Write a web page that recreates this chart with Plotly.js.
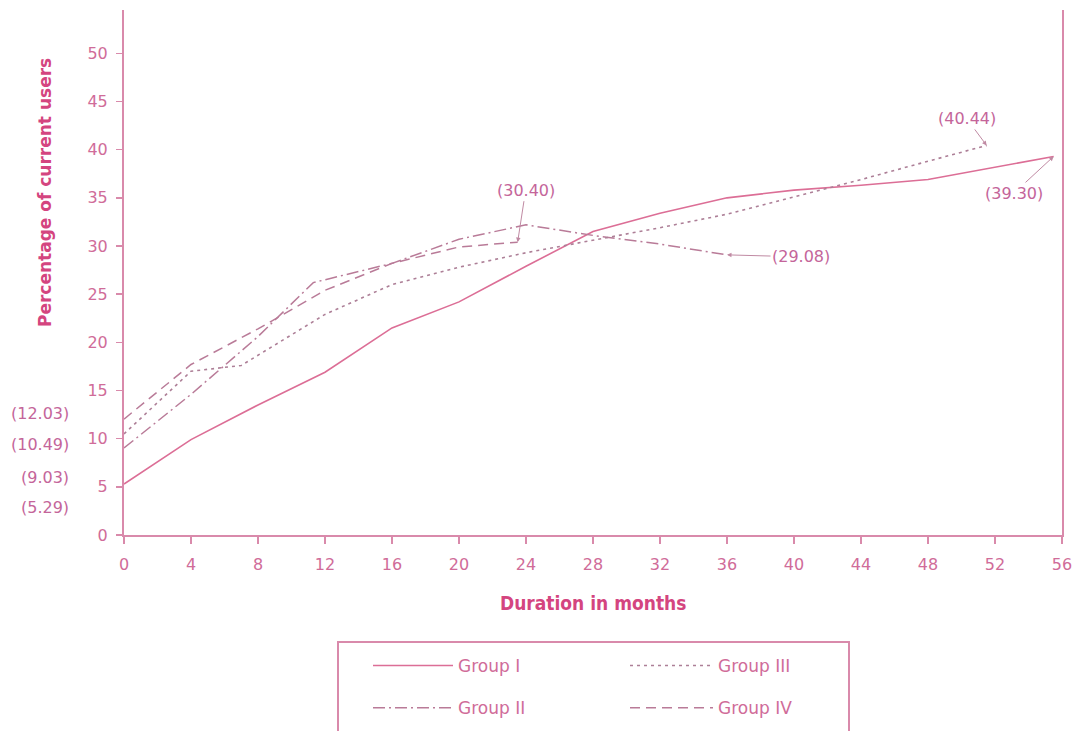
<!DOCTYPE html>
<html>
<head>
<meta charset="utf-8">
<script src="https://cdn.plot.ly/plotly-3.0.1.min.js"></script>
<style>html,body{margin:0;padding:0;background:#fff;}#chart{width:1078px;height:731px;}</style>
</head>
<body>
<div id="chart"></div>
<script>
// ---- data ----
const monthsI   = [0, 4, 8, 12, 16, 20, 24, 28, 32, 36, 40, 44, 48, 52, 55.5];
const groupI    = [5.29, 9.9, 13.5, 16.9, 21.5, 24.2, 27.9, 31.5, 33.4, 35.0, 35.8, 36.3, 36.9, 38.2, 39.30];

const monthsII  = [0, 4, 8, 11.3, 16, 20, 24, 28, 32, 36];
const groupII   = [9.03, 14.6, 20.6, 26.2, 28.2, 30.7, 32.2, 31.1, 30.2, 29.08];

const monthsIII = [0, 4, 7, 12, 16, 20, 24, 28, 32, 36, 40, 44, 48, 51.5];
const groupIII  = [10.49, 17.0, 17.6, 22.9, 26.0, 27.8, 29.3, 30.6, 31.9, 33.3, 35.1, 36.9, 38.8, 40.44];

const monthsIV  = [0, 4, 8, 12, 16, 20, 23.5];
const groupIV   = [12.03, 17.7, 21.4, 25.4, 28.2, 29.9, 30.40];

const seriesNames = ["Group I", "Group II", "Group III", "Group IV"];
const startLabels = ["(12.03)", "(10.49)", "(9.03)", "(5.29)"];
const xTicks = [0, 4, 8, 12, 16, 20, 24, 28, 32, 36, 40, 44, 48, 52, 56];
const yTicks = [0, 5, 10, 15, 20, 25, 30, 35, 40, 45, 50];

// ---- styling ----
const AXIS = "#d98aab";
const TEXT = "#d06c99";
const TITLE = "#d4457f";
const ANN = "#c4659a";
const FONT = "'DejaVu Sans', Lato, sans-serif";

const traces = [
  {x: monthsI, y: groupI, name: seriesNames[0], mode: "lines",
   line: {color: "#dc6e96", width: 1.6}, legend: "legend", legendgroup: "a"},
  {x: monthsII, y: groupII, name: seriesNames[1], mode: "lines",
   line: {color: "#b97b98", width: 1.5, dash: "12px,4px,2px,4px"}, legend: "legend", legendgroup: "b"},
  {x: monthsIII, y: groupIII, name: seriesNames[2], mode: "lines",
   line: {color: "#ad7f97", width: 1.6, dash: "3px,4px"}, legend: "legend2", legendgroup: "c"},
  {x: monthsIV, y: groupIV, name: seriesNames[3], mode: "lines",
   line: {color: "#b97b98", width: 1.5, dash: "10px,6px"}, legend: "legend2", legendgroup: "d"}
];

const leftY = [413, 445, 477, 507];
const annotations = [];
startLabels.forEach((t, i) => {
  annotations.push({text: t, xref: "paper", yref: "paper",
    x: (71 - 124) / 938, y: (535 - leftY[i]) / 525, xanchor: "right", yanchor: "middle",
    showarrow: false, font: {family: FONT, size: 16, color: ANN}});
});
function arrowNote(x, y, text, ax, ay) {
  annotations.push({x: x, y: y, xref: "x", yref: "y", text: text, showarrow: true,
    ax: ax, ay: ay, arrowhead: 2, arrowsize: 0.9, arrowwidth: 1, arrowcolor: "#c08aa3",
    standoff: 0, font: {family: FONT, size: 16, color: ANN}});
}
arrowNote(monthsIV[monthsIV.length - 1], groupIV[groupIV.length - 1], "(30.40)", 8, -52);
arrowNote(monthsII[monthsII.length - 1], groupII[groupII.length - 1], "(29.08)", 74, 2);
arrowNote(monthsIII[monthsIII.length - 1], groupIII[groupIII.length - 1], "(40.44)", -20, -27);
arrowNote(monthsI[monthsI.length - 1], groupI[groupI.length - 1], "(39.30)", -40, 37);

annotations.push({text: "<b>Percentage of current users</b>", xref: "paper", yref: "paper",
  x: (45 - 124) / 938, y: (535 - 193) / 525, textangle: -90, showarrow: false,
  xanchor: "center", yanchor: "middle", font: {family: FONT, size: 17, color: TITLE}});
annotations.push({text: "<b>Duration in months</b>", xref: "paper", yref: "paper",
  x: 0.5, y: (535 - 603) / 525, showarrow: false, xanchor: "center", yanchor: "middle",
  font: {family: "'Liberation Sans Narrow', 'DejaVu Sans Condensed', sans-serif", size: 19, color: TITLE}});

const legendCommon = {orientation: "v", bgcolor: "rgba(0,0,0,0)", borderwidth: 0,
  traceorder: "grouped", tracegroupgap: 17,
  font: {family: FONT, size: 17, color: TEXT}, xanchor: "left", yanchor: "top"};

const layout = {
  width: 1078, height: 731,
  margin: {l: 124, r: 16, t: 10, b: 196, autoexpand: false},
  paper_bgcolor: "#ffffff", plot_bgcolor: "#ffffff",
  showlegend: true,
  legend: Object.assign({}, legendCommon, {x: (368 - 124) / 938, y: (535 - 648) / 525, itemwidth: 80}),
  legend2: Object.assign({}, legendCommon, {x: (625 - 124) / 938, y: (535 - 648) / 525, itemwidth: 83}),
  xaxis: {range: [0, 56], tickvals: xTicks, ticks: "outside", ticklen: 7, tickwidth: 1.5,
    tickcolor: AXIS, showline: true, linecolor: AXIS, linewidth: 2, showgrid: false,
    zeroline: false, ticklabelstandoff: 7,
    tickfont: {family: FONT, size: 16, color: TEXT}},
  yaxis: {range: [0, 54.5], tickvals: yTicks, ticks: "outside", ticklen: 6, tickwidth: 1.5,
    tickcolor: AXIS, showline: true, linecolor: AXIS, linewidth: 2, mirror: true,
    showgrid: false, zeroline: false, ticklabelstandoff: 5,
    tickfont: {family: FONT, size: 16, color: TEXT}},
  annotations: annotations,
  shapes: [{type: "rect", xref: "paper", yref: "paper",
    x0: (338 - 124) / 938, x1: (849 - 124) / 938, y0: (535 - 642) / 525, y1: (535 - 760) / 525,
    line: {color: AXIS, width: 2}, fillcolor: "rgba(0,0,0,0)", layer: "below"}]
};

Plotly.newPlot("chart", traces, layout, {displayModeBar: false, staticPlot: true});
</script>
</body>
</html>
